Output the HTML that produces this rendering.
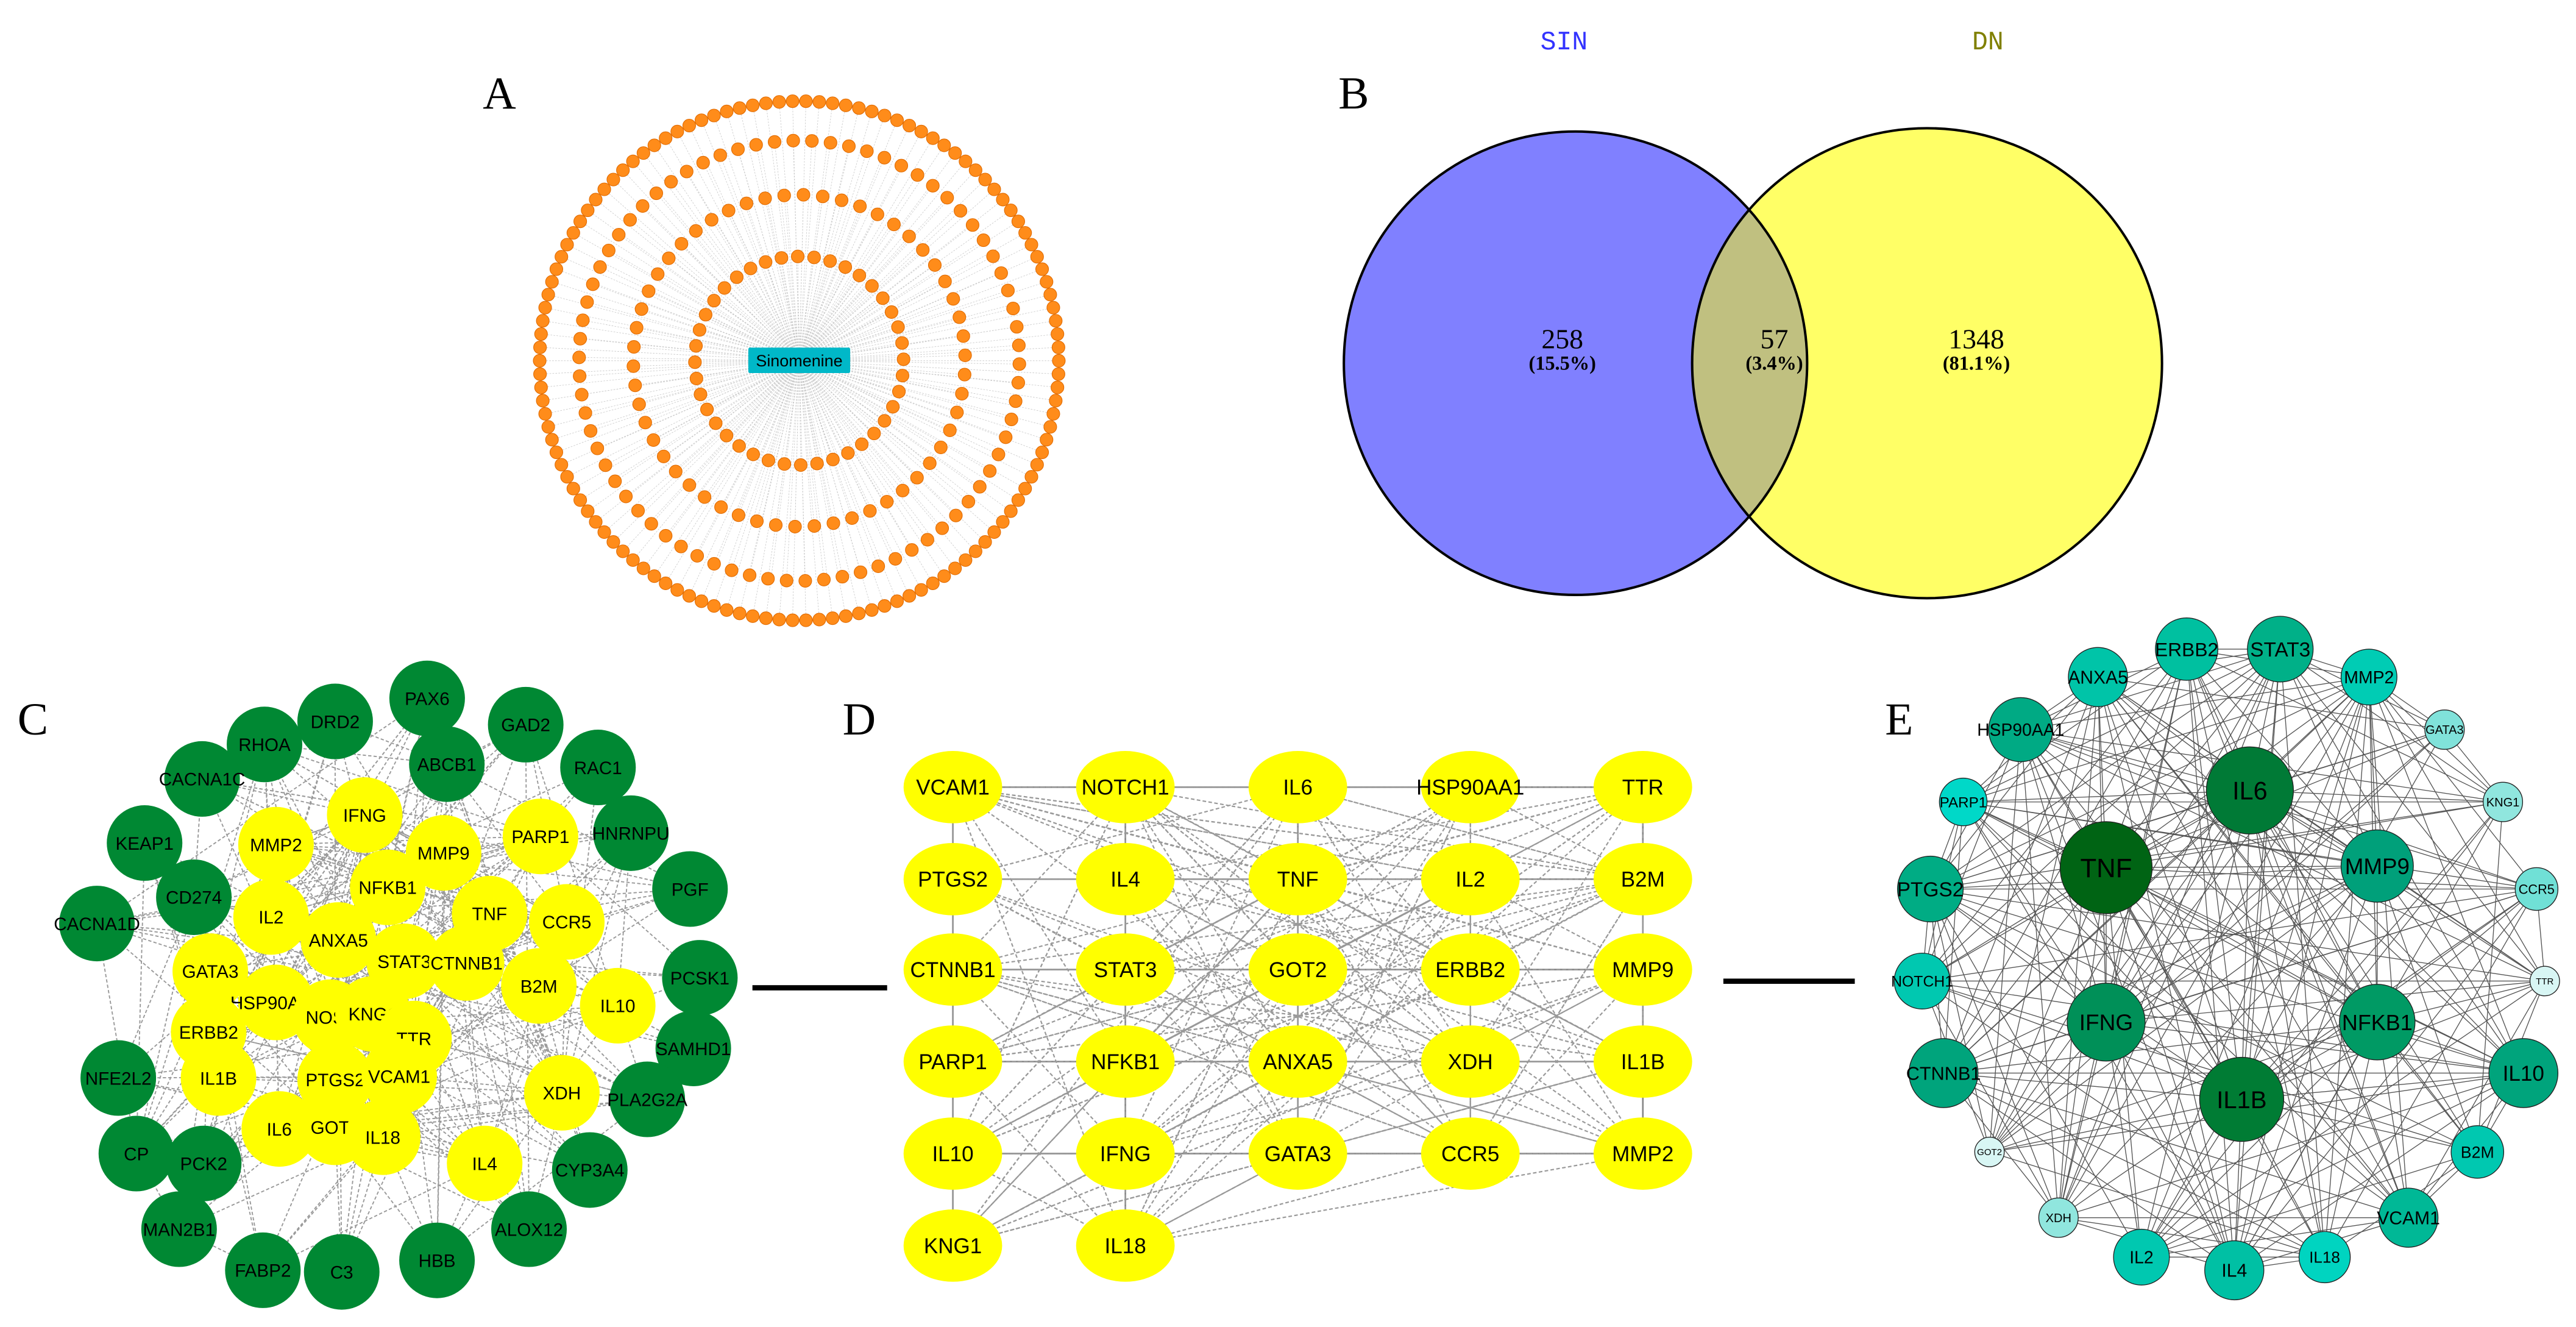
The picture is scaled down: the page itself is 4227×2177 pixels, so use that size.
<!DOCTYPE html>
<html><head><meta charset="utf-8">
<style>html,body{margin:0;padding:0;background:#fff;}svg{display:block}</style>
</head><body>
<svg id="s" xmlns="http://www.w3.org/2000/svg" width="4227" height="2177" viewBox="0 0 1568 807.5" font-family="Liberation Sans, sans-serif">
<rect width="1568" height="807.5" fill="#fff"/>
<g id="A"></g>
<g id="C"></g>
<g id="D"></g>
<g id="E"></g>
<!-- Venn -->
<circle cx="959" cy="221" r="141" fill="#8080ff"/>
<circle cx="1173" cy="221" r="143" fill="#ffff66"/>
<clipPath id="cb"><circle cx="959" cy="221" r="141"/></clipPath>
<circle cx="1173" cy="221" r="143" fill="#c0c080" clip-path="url(#cb)"/>
<circle cx="959" cy="221" r="141" fill="none" stroke="#000" stroke-width="1.5"/>
<circle cx="1173" cy="221" r="143" fill="none" stroke="#000" stroke-width="1.5"/>
<g font-family="Liberation Serif, serif" text-anchor="middle">
<text x="952" y="30" font-family="Liberation Mono, monospace" font-size="16" fill="#3333ff">SIN</text>
<text x="1210" y="30" font-family="Liberation Mono, monospace" font-size="16" fill="#808000">DN</text>
<text x="951" y="212" font-size="17">258</text><text x="951" y="225" font-size="12" font-weight="bold">(15.5%)</text>
<text x="1080" y="212" font-size="17">57</text><text x="1080" y="225" font-size="12" font-weight="bold">(3.4%)</text>
<text x="1203" y="212" font-size="17">1348</text><text x="1203" y="225" font-size="12" font-weight="bold">(81.1%)</text>
<text x="304" y="66" font-size="28">A</text>
<text x="824" y="66" font-size="28">B</text>
<text x="20" y="447" font-size="28">C</text>
<text x="523" y="447" font-size="28">D</text>
<text x="1156" y="447" font-size="28">E</text>
</g>
<rect x="458" y="599.5" width="82" height="3.2" fill="#000"/>
<rect x="1049" y="595.5" width="80" height="3.2" fill="#000"/>
</svg>
<script>
var NS="http://www.w3.org/2000/svg";
function el(p,t,a,txt){var e=document.createElementNS(NS,t);for(var k in a)e.setAttribute(k,a[k]);if(txt!==undefined)e.textContent=txt;p.appendChild(e);return e;}
var seed=12345;function rnd(){seed=(seed*1103515245+12345)%2147483648;return seed/2147483648;}
// Panel A
(function(){var g=document.getElementById('A');var cx=486.5,cy=219.5;
var rings=[[158,122],[134,74],[101,54],[63.5,40]];
var eg=el(g,'g',{stroke:'#c8c8c8','stroke-width':0.3,'stroke-dasharray':'1,0.8'});
var ng=el(g,'g',{});
rings.forEach(function(r,i){for(var j=0;j<r[1];j++){var a=j/r[1]*2*Math.PI+i*0.1;var x=cx+r[0]*Math.cos(a),y=cy+r[0]*Math.sin(a);
el(eg,'line',{x1:cx,y1:cy,x2:x,y2:y});el(ng,'circle',{cx:x,cy:y,r:3.9,fill:'#ff8c1a',stroke:'#e06a00','stroke-width':0.4});}});
el(g,'rect',{x:455.5,y:211.5,width:62,height:15.5,fill:'#00b8c8',rx:1});
el(g,'text',{x:486.5,y:223,'font-size':10,'text-anchor':'middle'},'Sinomenine');})();
// Panel C
(function(){var g=document.getElementById('C');
var green=[['PAX6',260,425],['DRD2',204,439],['GAD2',320,441],['RHOA',161,453],['ABCB1',272,465],['RAC1',364,467],['CACNA1C',123,474],['KEAP1',88,513],['HNRNPU',384,507],['CD274',118,546],['PGF',420,541],['CACNA1D',59,562],['PCSK1',426,595],['SAMHD1',422,638],['NFE2L2',72,656],['PLA2G2A',394,669],['CP',83,702],['PCK2',124,708],['CYP3A4',359,712],['MAN2B1',109,748],['ALOX12',322,748],['FABP2',160,773],['C3',208,774],['HBB',266,767]];
var yel=[['IFNG',222,496],['MMP2',168,514],['PARP1',329,509],['MMP9',270,519],['NFKB1',236,540],['TNF',298,556],['IL2',165,558],['CCR5',345,561],['ANXA5',206,572],['STAT3',246,585],['CTNNB1',284,586],['GATA3',128,591],['B2M',328,600],['IL10',376,612],['HSP90AA1',168,610],['NOS2',201,619],['KNG1',227,617],['ERBB2',127,628],['TTR',252,632],['IL1B',133,656],['PTGS2',204,657],['VCAM1',243,655],['XDH',342,665],['IL6',170,687],['GOT2',204,686],['IL18',233,692],['IL4',295,708]];
var all=green.concat(yel);var eg=el(g,'g',{stroke:'#999','stroke-width':0.7,'stroke-dasharray':'2,1.3'});
for(var i=0;i<330;i++){var a=yel[Math.floor(rnd()*yel.length)];var b=(rnd()<0.55?all:yel)[Math.floor(rnd()*(rnd()<0.55?all.length:yel.length))]||yel[0];if(a===b)continue;el(eg,'line',{x1:a[1],y1:a[2],x2:b[1],y2:b[2]});}
for(var i=0;i<40;i++){var a=green[Math.floor(rnd()*green.length)],b=green[Math.floor(rnd()*green.length)];if(a===b)continue;el(eg,'line',{x1:a[1],y1:a[2],x2:b[1],y2:b[2]});}
green.forEach(function(n){el(g,'circle',{cx:n[1],cy:n[2],r:23,fill:'#008833'});});
green.forEach(function(n){el(g,'text',{x:n[1],y:n[2]+4,'font-size':11,'text-anchor':'middle'},n[0]);});
yel.forEach(function(n){el(g,'circle',{cx:n[1],cy:n[2],r:23,fill:'#ffff00'});el(g,'text',{x:n[1],y:n[2]+4,'font-size':11,'text-anchor':'middle'},n[0]);});})();
// Panel D
(function(){var g=document.getElementById('D');var xs=[580,685,790,895,1000],ys=[479,535,590,646,702,758];
var names=[['VCAM1','NOTCH1','IL6','HSP90AA1','TTR'],['PTGS2','IL4','TNF','IL2','B2M'],['CTNNB1','STAT3','GOT2','ERBB2','MMP9'],['PARP1','NFKB1','ANXA5','XDH','IL1B'],['IL10','IFNG','GATA3','CCR5','MMP2'],['KNG1','IL18']];
var nodes=[];names.forEach(function(r,i){r.forEach(function(n,j){nodes.push([n,xs[j],ys[i]]);});});
var sg=el(g,'g',{stroke:'#888','stroke-width':1});
[0,1,2,4].forEach(function(j){el(sg,'line',{x1:xs[j],y1:ys[0],x2:xs[j],y2:ys[j<2?5:4]});});
for(var i=0;i<5;i++){el(sg,'line',{x1:xs[0],y1:ys[i],x2:xs[4],y2:ys[i]});}
var eg=el(g,'g',{stroke:'#999','stroke-width':0.8,'stroke-dasharray':'2.2,1.4'});
for(var i=0;i<260;i++){var a=nodes[Math.floor(rnd()*nodes.length)],b=nodes[Math.floor(rnd()*nodes.length)];if(a===b)continue;el(eg,'line',{x1:a[1],y1:a[2],x2:b[1],y2:b[2]});}
nodes.forEach(function(n){el(g,'ellipse',{cx:n[1],cy:n[2],rx:30,ry:22,fill:'#ffff00'});el(g,'text',{x:n[1],y:n[2]+4.6,'font-size':13,'text-anchor':'middle'},n[0]);});})();
// Panel E
(function(){var g=document.getElementById('E');
var n=[['ERBB2',1331,395,19,'#00c0a0'],['STAT3',1388,395,20,'#00b088'],['ANXA5',1277,412,18,'#00c4a8'],['MMP2',1442,412,17,'#00ccb4'],['HSP90AA1',1230,444,19.5,'#00aa84'],['GATA3',1488,444,12,'#80e2da'],['IL6',1369.5,481,26.5,'#007a36'],['PARP1',1195,488,14.5,'#00d8c8'],['KNG1',1523.5,488,12,'#90e6de'],['TNF',1282,528,28,'#006414'],['MMP9',1447,527,22,'#00a07a'],['PTGS2',1175,541,20,'#00ac84'],['CCR5',1544,541,13,'#70e0d6'],['NOTCH1',1170,597,17,'#00c8b0'],['TTR',1549,597,9,'#d8f6f4'],['IFNG',1282,622,23.7,'#009058'],['NFKB1',1447,622,23,'#009a64'],['CTNNB1',1183,653,21,'#00a47c'],['IL10',1536,653,21,'#00a47c'],['IL1B',1364.5,669,25.6,'#007c34'],['GOT2',1211,701,9,'#d8f6f4'],['B2M',1508,701,16,'#00c8b0'],['XDH',1253,741,12,'#90e6de'],['VCAM1',1466,741,18,'#00b896'],['IL2',1303.5,765,17,'#00c8b0'],['IL4',1360,773,18,'#00c0a4'],['IL18',1415,765,15.6,'#00d4c0']];
var eg=el(g,'g',{stroke:'#555','stroke-width':0.5});
for(var i=0;i<n.length;i++)for(var j=i+1;j<n.length;j++){var p=Math.min(0.9,(n[i][3]+n[j][3])/52);if(rnd()<p)el(eg,'line',{x1:n[i][1],y1:n[i][2],x2:n[j][1],y2:n[j][2]});}
n.forEach(function(d){el(g,'circle',{cx:d[1],cy:d[2],r:d[3],fill:d[4],stroke:'#222','stroke-width':0.5});
var fs=Math.max(4.5,Math.min(d[3]*0.62,d[3]*2.6/Math.max(d[0].length,2)*1.25));if(d[3]>=23)fs=d[3]*0.58;if(d[0]=='HSP90AA1')fs=10.5;
el(g,'text',{x:d[1],y:d[2]+fs*0.36,'font-size':fs,'text-anchor':'middle'},d[0]);});})();
</script>
</body></html>
